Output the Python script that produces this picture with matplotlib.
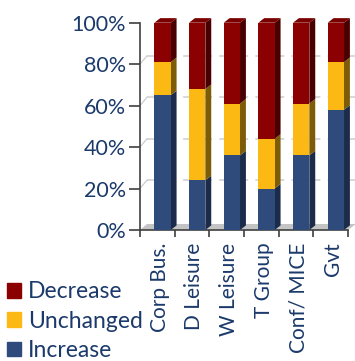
import matplotlib
matplotlib.use("Agg")
import matplotlib.pyplot as plt
from matplotlib.patches import Polygon, Patch

plt.rcParams['font.family'] = ['Lato', 'DejaVu Sans']

categorias = ["Corp Bus.", "D Leisure", "W Leisure", "T Group", "Conf/ MICE", "Gvt"]
increase = [65, 24, 36, 20, 36, 58]
unchanged = [16, 44, 25, 24, 25, 23]
decrease = [19, 32, 39, 56, 39, 19]

series = [("Increase", increase, "#2f4b7c", "#1c2b49"),
          ("Unchanged", unchanged, "#fcb813", "#7d5c08"),
          ("Decrease", decrease, "#8b0000", "#4a0000")]

texto = "#1b3a6b"
ancho = 0.47
# profundidad del efecto 3d (en unidades de datos)
dx, dy = 0.17, 2.2

fig = plt.figure(figsize=(3.55, 3.61), dpi=100)
ax = fig.add_axes([140/355, 1-230/361, 208/355, 207.3/361])
ax.set_xlim(-0.65, 5.35)
ax.set_ylim(0, 100)

# piso gris
piso = Polygon([(-0.65, 0), (-0.45, 2.9), (5.58, 2.9), (5.35, 0)], closed=True,
               facecolor="#c4c4c4", edgecolor="none", zorder=1, clip_on=False)
ax.add_patch(piso)

# lineas de la pared del fondo
for v in [20, 40, 60, 80]:
    ax.plot([-0.45, 5.6], [v+4, v+4], color="#d6d6d6", lw=1.3, ls=(0, (6, 4)),
            zorder=0.5, clip_on=False)
    ax.plot([-0.65, -0.45], [v, v+4], color="#c8c8c8", lw=0.8, zorder=0.5, clip_on=False)

base = [0]*len(categorias)
for nombre, vals, color, lado in series:
    for i, v in enumerate(vals):
        x0 = i - ancho/2
        x1 = i + ancho/2
        y0 = base[i]
        y1 = base[i] + v
        ax.add_patch(Polygon([(x1, y0), (x1+dx, y0+dy), (x1+dx, y1+dy), (x1, y1)],
                             closed=True, facecolor=lado, edgecolor="none",
                             zorder=2, clip_on=False))
    ax.bar(range(len(categorias)), vals, width=ancho, bottom=base, color=color,
           zorder=3, clip_on=False)
    base = [b+v for b, v in zip(base, vals)]

# tapas superiores
for i in range(len(categorias)):
    x0 = i - ancho/2
    x1 = i + ancho/2
    ax.add_patch(Polygon([(x0, 100), (x0+dx, 100+dy), (x1+dx, 100+dy), (x1, 100)],
                         closed=True, facecolor="#7a0000", edgecolor="none",
                         zorder=3, clip_on=False))

for s in ["top", "right"]:
    ax.spines[s].set_visible(False)
for s in ["left", "bottom"]:
    ax.spines[s].set_color("#404040")
    ax.spines[s].set_linewidth(1.2)

ax.set_yticks([0, 20, 40, 60, 80, 100])
ax.set_yticklabels(["0%", "20%", "40%", "60%", "80%", "100%"])
ax.tick_params(axis="y", length=8, width=1.2, color="#404040", pad=2,
               labelsize=15.5, labelcolor=texto)

ax.set_xticks([i - 0.08 for i in range(len(categorias))])
ax.set_xticklabels(categorias, rotation=90, va="top", ha="center")
ax.tick_params(axis="x", which="major", length=0, pad=9, labelsize=15, labelcolor=texto)
ax.set_xticks([k + 0.35 for k in range(-1, 6)], minor=True)
ax.tick_params(axis="x", which="minor", length=5, width=1.2, color="#404040")

manejadores = [Patch(color=c, label=n) for n, _, c, _ in reversed(series)]
fig.legend(handles=manejadores, loc="lower left", bbox_to_anchor=(7/355, 0.0),
           frameon=False, fontsize=16.5, labelcolor=texto, handlelength=0.6,
           handleheight=0.6, handletextpad=0.3, labelspacing=0.36,
           borderpad=0.0, borderaxespad=0.0)

fig.savefig("out.png", dpi=100)
